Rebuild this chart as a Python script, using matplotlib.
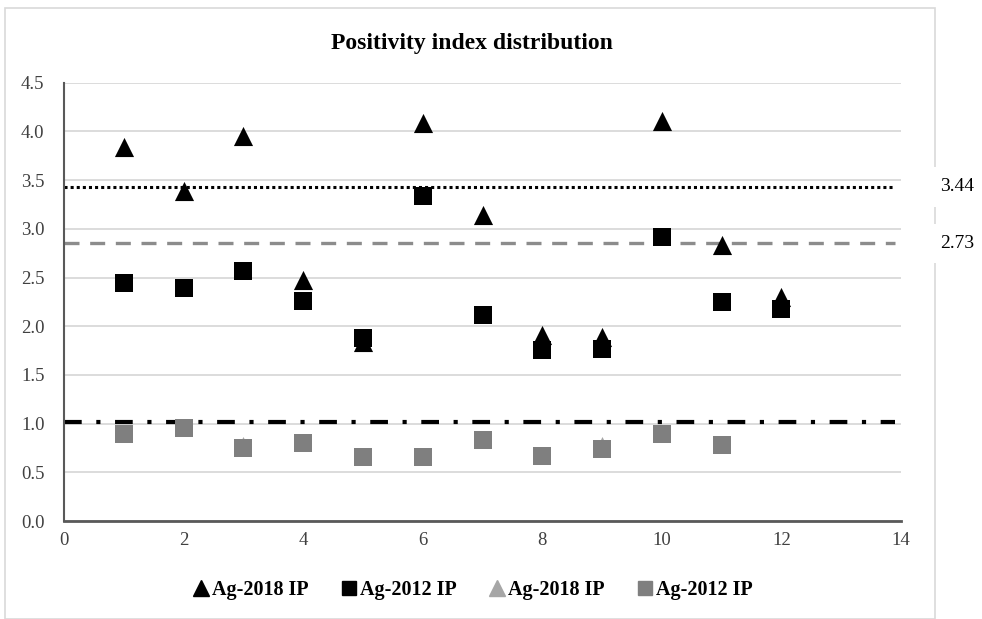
import matplotlib
matplotlib.use("Agg")
import matplotlib.pyplot as plt
from matplotlib.lines import Line2D
from matplotlib.patches import Rectangle

plt.rcParams['font.family'] = ['Liberation Serif', 'DejaVu Serif']

x = [1, 2, 3, 4, 5, 6, 7, 8, 9, 10, 11, 12]
ag2018_a = [3.84, 3.39, 3.95, 2.47, 1.84, 4.09, 3.14, 1.91, 1.89, 4.11, 2.83, 2.30]
ag2012_a = [2.44, 2.39, 2.57, 2.26, 1.88, 3.34, 2.12, 1.76, 1.77, 2.92, 2.25, 2.18]
x_b = [1, 2, 3, 4, 5, 6, 7, 8, 9, 10, 11]
ag2018_b = [0.89, 0.95, 0.78, 0.80, 0.66, 0.66, 0.83, 0.67, 0.78, 0.89, 0.78]
ag2012_b = [0.89, 0.95, 0.75, 0.80, 0.66, 0.66, 0.83, 0.67, 0.74, 0.89, 0.78]
ref_dotted = 3.43
ref_dashed = 2.85
ref_dashdot = 1.02
ref_labels = ["3.44", "2.73"]
legend_labels = ["Ag-2018 IP", "Ag-2012 IP", "Ag-2018 IP", "Ag-2012 IP"]
title = "Positivity index distribution"

fig = plt.figure(figsize=(9.82, 6.19), dpi=100)
fig.patches.append(Rectangle((5/982, 0), 930/982, 1 - 8/619, transform=fig.transFigure,
                             fill=False, edgecolor='#d9d9d9', lw=1.2, zorder=0))
ax = fig.add_axes([64/982, 1 - 521/619, 837/982, (521 - 82.7)/619])

ax.set_xlim(0, 14)
ax.set_ylim(0, 4.5)
ax.set_xticks(range(0, 15, 2))
ax.set_yticks([i * 0.5 for i in range(10)])
ax.set_yticklabels([f"{i*0.5:.1f}" for i in range(10)])
ax.tick_params(length=0, labelsize=13.5, colors='#404040', pad=8)
ax.tick_params(axis='y', pad=14)
ax.grid(axis='y', color='#d9d9d9', lw=1.3, zorder=0)
ax.set_axisbelow(True)
for s in ['top', 'right']:
    ax.spines[s].set_visible(False)
ax.spines['left'].set_color('#595959')
ax.spines['left'].set_linewidth(1.5)
ax.spines['bottom'].set_color('#595959')
ax.spines['bottom'].set_linewidth(2)

ax.plot([0, 13.9], [ref_dotted] * 2, color='black', lw=2.2, linestyle=(0, (1, 1)), zorder=2)
ax.plot([0, 13.9], [ref_dashed] * 2, color='#8c8c8c', lw=2.4, linestyle=(0, (4.5, 3.2)), zorder=2)
ax.plot([0, 13.9], [ref_dashdot] * 2, color='black', lw=3, linestyle=(0, (4.25, 3.5, 1, 3.5)), zorder=2)

ax.scatter(x, ag2012_a, marker='s', s=150, color='black', zorder=3, linewidths=0)
ax.scatter(x, ag2018_a, marker='^', s=190, color='black', zorder=3, linewidths=0)
ax.scatter(x_b, ag2018_b, marker='^', s=150, color='#a6a6a6', zorder=3, linewidths=0)
ax.scatter(x_b, ag2012_b, marker='s', s=150, color='#7f7f7f', zorder=4, linewidths=0)

fig.text(472/982, 1 - 43/619, title, ha='center', va='center', fontsize=17, fontweight='bold')

for val, lab in zip([ref_dotted, ref_dashed], ref_labels):
    yf = ax.transData.transform((0, val))[1]
    fig.text(957/982, yf / 619, lab, ha='center', va='center', fontsize=14,
             bbox=dict(facecolor='white', edgecolor='none', pad=8), zorder=5)

handles = [
    Line2D([], [], marker='^', ls='', color='black', markersize=11),
    Line2D([], [], marker='s', ls='', color='black', markersize=10),
    Line2D([], [], marker='^', ls='', color='#a6a6a6', markersize=11),
    Line2D([], [], marker='s', ls='', color='#7f7f7f', markersize=10),
]
fig.legend(handles, legend_labels, loc='center', bbox_to_anchor=(472/982, 1 - 590/619), ncol=4,
           frameon=False, handletextpad=0.05, columnspacing=1.5, handlelength=1.0,
           prop={'weight': 'bold', 'size': 14.5})

fig.savefig("out.png", dpi=100)
